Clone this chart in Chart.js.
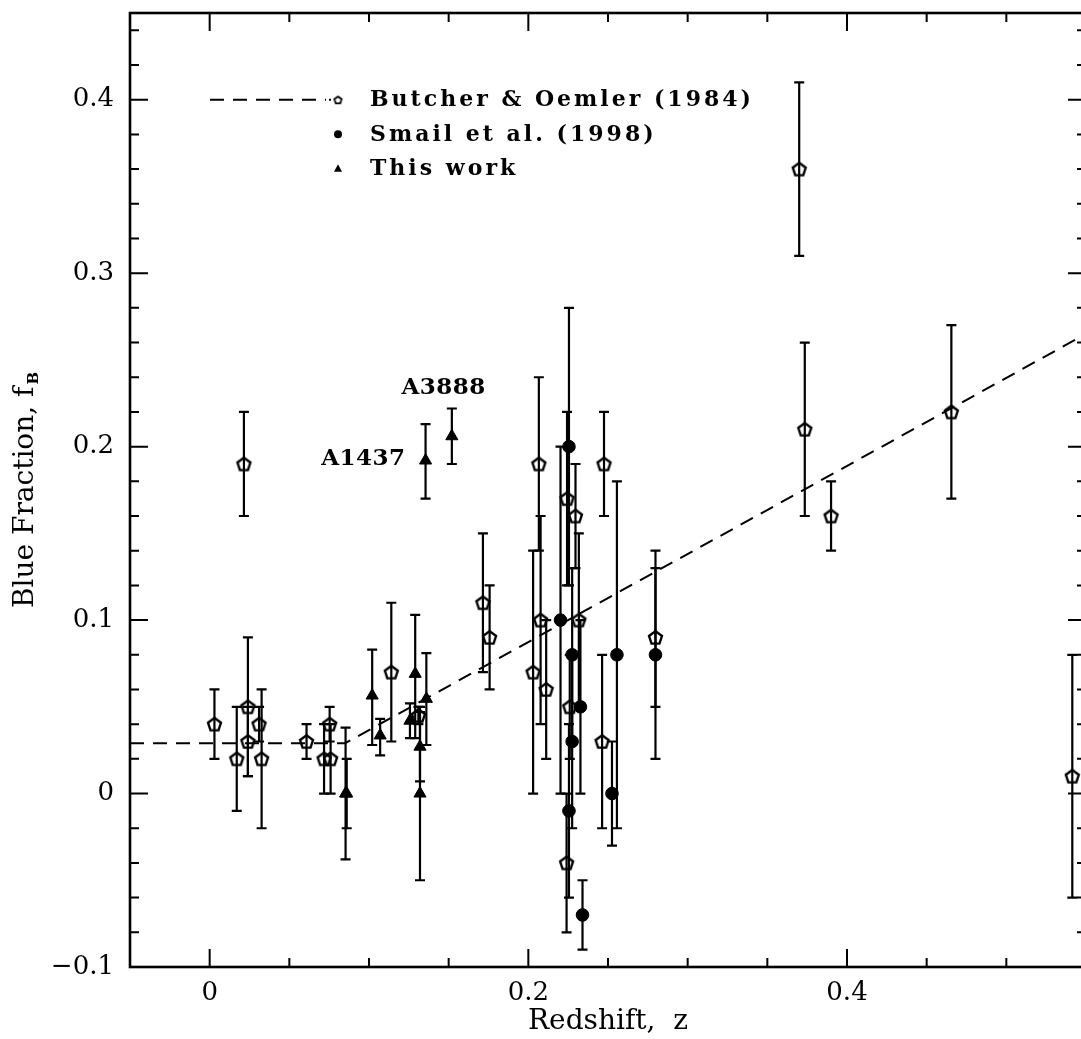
<!DOCTYPE html>
<html><head><meta charset="utf-8">
<script src="https://cdn.jsdelivr.net/npm/chart.js@4.4.1/dist/chart.umd.min.js"></script>
<style>
html,body{margin:0;padding:0;background:#fff;overflow:hidden;width:1081px;height:1039px}
#wrap{width:1100px;height:1039px;position:relative}
</style></head>
<body><div id="wrap"><canvas id="c" width="1100" height="1039"></canvas></div>
<script>
// ---- tick labels ----
const xTickValues = [0, 0.2, 0.4];
const xTickLabels = ['0', '0.2', '0.4'];
const yTickValues = [-0.1, 0, 0.1, 0.2, 0.3, 0.4];
const yTickLabels = ['\u22120.1', '0', '0.1', '0.2', '0.3', '0.4'];

// ---- Butcher & Oemler (1984) ----
const boZ  = [0.003, 0.017, 0.0215, 0.024, 0.024, 0.031, 0.0326, 0.0608, 0.0718, 0.0759, 0.0753, 0.114, 0.131, 0.1715, 0.1757, 0.203, 0.2066, 0.2077, 0.2112, 0.2243, 0.224, 0.226, 0.2296, 0.2317, 0.2463, 0.2475, 0.2798, 0.370, 0.3735, 0.390, 0.4655, 0.5414];
const boF  = [0.04, 0.02, 0.19, 0.05, 0.03, 0.04, 0.02, 0.03, 0.02, 0.02, 0.04, 0.07, 0.045, 0.11, 0.09, 0.07, 0.19, 0.10, 0.06, 0.17, -0.04, 0.05, 0.16, 0.10, 0.03, 0.19, 0.09, 0.36, 0.21, 0.16, 0.22, 0.01];
const boHi = [0.06, 0.05, 0.22, 0.09, 0.05, 0.05, 0.06, 0.04, 0.04, 0.04, 0.05, 0.11, 0.05, 0.15, 0.12, 0.14, 0.24, 0.16, 0.10, 0.22, 0.00, 0.08, 0.19, 0.15, 0.08, 0.22, 0.14, 0.41, 0.26, 0.18, 0.27, 0.08];
const boLo = [0.02, -0.01, 0.16, 0.01, 0.01, 0.03, -0.02, 0.02, 0.00, 0.00, 0.03, 0.03, 0.04, 0.07, 0.06, 0.00, 0.14, 0.04, 0.02, 0.12, -0.08, 0.02, 0.13, 0.05, -0.02, 0.16, 0.05, 0.31, 0.16, 0.14, 0.17, -0.06];

// ---- Smail et al. (1998) ----
const smZ  = [0.2202, 0.2255, 0.2275, 0.2327, 0.2275, 0.2255, 0.234, 0.2556, 0.2525, 0.2798];
const smF  = [0.10, 0.20, 0.08, 0.05, 0.03, -0.01, -0.07, 0.08, 0.00, 0.08];
const smHi = [0.20, 0.28, 0.13, 0.10, 0.08, 0.04, -0.05, 0.18, 0.03, 0.13];
const smLo = [0.00, 0.12, 0.03, 0.00, -0.02, -0.06, -0.09, -0.02, -0.03, 0.02];

// ---- This work ----
const twZ  = [0.0853, 0.086, 0.102, 0.107, 0.1257, 0.129, 0.132, 0.132, 0.136, 0.1355, 0.152];
const twF  = [0.0, 0.0, 0.0565, 0.0335, 0.042, 0.069, 0.027, 0.0, 0.0546, 0.192, 0.206];
const twHi = [0.038, 0.02, 0.083, 0.043, 0.052, 0.103, 0.047, 0.05, 0.081, 0.213, 0.222];
const twLo = [-0.038, -0.02, 0.028, 0.022, 0.032, 0.032, 0.007, -0.05, 0.028, 0.17, 0.19];

// ---- dashed trend line ----
const fitZ = [-0.05, 0.085, 0.55];
const fitF = [0.029, 0.029, 0.265];

// ---- labelled clusters ----
const clusterNames = ['A1437', 'A3888'];
const clusterIdx = [9, 10];   // index into This-work arrays

const legendLabels = ['Butcher & Oemler (1984)', 'Smail et al. (1998)', 'This work'];

const FONT = '"DejaVu Serif", serif';

function pentagon(r, lw) {
  const s = Math.ceil(2 * r + 2 * lw + 3) | 1;
  const c = document.createElement('canvas');
  c.width = s; c.height = s;
  const g = c.getContext('2d');
  g.strokeStyle = '#000'; g.lineWidth = lw; g.lineJoin = 'miter';
  g.beginPath();
  for (let k = 0; k < 5; k++) {
    const a = -Math.PI / 2 + k * 2 * Math.PI / 5;
    const px = s / 2 + r * Math.cos(a), py = s / 2 + 0.6 + r * Math.sin(a);
    k ? g.lineTo(px, py) : g.moveTo(px, py);
  }
  g.closePath(); g.stroke();
  return c;
}
const pentBig = pentagon(6.8, 2.4);

const pts = (xs, ys) => xs.map((v, i) => ({x: v, y: ys[i]}));
const errSets = [[boZ, boLo, boHi], [smZ, smLo, smHi], [twZ, twLo, twHi]];

const errPlugin = {
  id: 'errbars',
  beforeDatasetsDraw(chart) {
    const {ctx, chartArea: a, scales: {x, y}} = chart;
    ctx.save();
    ctx.beginPath(); ctx.rect(a.left, a.top, a.right - a.left, a.bottom - a.top); ctx.clip();
    ctx.strokeStyle = '#000'; ctx.lineWidth = 2.2; ctx.lineCap = 'butt';
    for (const [zs, lo, hi] of errSets) {
      for (let i = 0; i < zs.length; i++) {
        const px = x.getPixelForValue(zs[i]);
        const pl = y.getPixelForValue(lo[i]);
        const ph = y.getPixelForValue(hi[i]);
        ctx.beginPath();
        ctx.moveTo(px, pl); ctx.lineTo(px, ph);
        ctx.moveTo(px - 5, pl); ctx.lineTo(px + 5, pl);
        ctx.moveTo(px - 5, ph); ctx.lineTo(px + 5, ph);
        ctx.stroke();
      }
    }
    ctx.restore();
  }
};

const framePlugin = {
  id: 'frame',
  afterDraw(chart) {
    const {ctx, chartArea: a, scales: {x, y}} = chart;
    ctx.save();
    ctx.strokeStyle = '#000';
    ctx.lineWidth = 2;
    ctx.beginPath();
    for (let k = 0; k <= 12; k++) {
      const v = -0.05 + k * 0.05;
      const major = Math.abs(v / 0.2 - Math.round(v / 0.2)) < 1e-6;
      const L = major ? 18 : 9;
      const px = x.getPixelForValue(v);
      ctx.moveTo(px, a.bottom); ctx.lineTo(px, a.bottom - L);
      ctx.moveTo(px, a.top); ctx.lineTo(px, a.top + L);
    }
    for (let k = 0; k <= 27; k++) {
      const v = -0.1 + k * 0.02;
      const major = Math.abs(v / 0.1 - Math.round(v / 0.1)) < 1e-6;
      const L = major ? 18 : 9;
      const py = y.getPixelForValue(v);
      ctx.moveTo(a.left, py); ctx.lineTo(a.left + L, py);
      ctx.moveTo(a.right, py); ctx.lineTo(a.right - L, py);
    }
    ctx.stroke();
    ctx.lineWidth = 2.6;
    ctx.strokeRect(a.left, a.top, a.right - a.left, a.bottom - a.top);

    // legend
    const lx = a.left + 80, mx = a.left + 208, tx = a.left + 240;
    const ly0 = y.getPixelForValue(0.4), dy = 34.5;
    ctx.lineWidth = 2;
    ctx.setLineDash([14, 9]);
    ctx.beginPath(); ctx.moveTo(lx, ly0); ctx.lineTo(mx - 12, ly0); ctx.stroke();
    ctx.setLineDash([]);
    ctx.beginPath(); ctx.moveTo(mx - 9, ly0); ctx.lineTo(mx - 7, ly0); ctx.stroke();
    const pSmall = pentagon(3.8, 1.8);
    ctx.drawImage(pSmall, mx - pSmall.width / 2, ly0 - pSmall.height / 2);
    ctx.fillStyle = '#000';
    ctx.beginPath(); ctx.arc(mx, ly0 + dy, 4, 0, 2 * Math.PI); ctx.fill();
    const ty = ly0 + 2 * dy;
    ctx.beginPath(); ctx.moveTo(mx, ty - 4.5); ctx.lineTo(mx + 4, ty + 3); ctx.lineTo(mx - 4, ty + 3); ctx.closePath(); ctx.fill();
    ctx.font = 'bold 22px ' + FONT;
    ctx.letterSpacing = '3px';
    ctx.textBaseline = 'middle'; ctx.textAlign = 'left';
    legendLabels.forEach((t, i) => ctx.fillText(t, tx, ly0 + i * dy + 1));
    ctx.letterSpacing = '0px';

    // cluster labels
    ctx.font = 'bold 23px ' + FONT;
    ctx.letterSpacing = '0.5px';
    ctx.textBaseline = 'alphabetic'; ctx.textAlign = 'right';
    const p0x = x.getPixelForValue(twZ[clusterIdx[0]]), p0y = y.getPixelForValue(twF[clusterIdx[0]]);
    ctx.fillText(clusterNames[0], p0x - 20, p0y + 4);
    const p1x = x.getPixelForValue(twZ[clusterIdx[1]]), p1y = y.getPixelForValue(twF[clusterIdx[1]]);
    ctx.fillText(clusterNames[1], p1x + 34, p1y - 42);
    ctx.letterSpacing = '0px';

    // y-axis title with subscript
    const cy = (a.top + a.bottom) / 2;
    ctx.translate(33, cy);
    ctx.rotate(-Math.PI / 2);
    ctx.font = '28px ' + FONT;
    const main = 'Blue Fraction, f';
    const w1 = ctx.measureText(main).width;
    ctx.font = 'bold 15px ' + FONT;
    const w2 = ctx.measureText('B').width;
    const start = -(w1 + w2 + 2) / 2;
    ctx.textAlign = 'left'; ctx.textBaseline = 'alphabetic';
    ctx.font = '28px ' + FONT;
    ctx.fillText(main, start, 0);
    ctx.font = 'bold 15px ' + FONT;
    ctx.fillText('B', start + w1 + 2, 5);
    ctx.restore();
  }
};

new Chart(document.getElementById('c'), {
  type: 'scatter',
  data: {
    datasets: [
      {
        type: 'line', label: 'trend', data: pts(fitZ, fitF),
        borderColor: '#000', borderWidth: 2, borderDash: [14, 9],
        pointRadius: 0, fill: false, tension: 0, order: 5
      },
      {
        label: legendLabels[0], data: pts(boZ, boF),
        pointStyle: pentBig, pointRadius: 7, order: 2
      },
      {
        label: legendLabels[1], data: pts(smZ, smF),
        pointStyle: 'circle', pointRadius: 6.3, backgroundColor: '#000', borderColor: '#000', borderWidth: 1, order: 1
      },
      {
        label: legendLabels[2], data: pts(twZ, twF),
        pointStyle: 'triangle', pointRadius: 7, backgroundColor: '#000', borderColor: '#000', borderWidth: 1, order: 0
      }
    ]
  },
  options: {
    responsive: false,
    animation: false,
    events: [],
    layout: {padding: {top: 13, right: 14, left: 0, bottom: 0}},
    plugins: {legend: {display: false}, tooltip: {enabled: false}, title: {display: false}},
    scales: {
      x: {
        type: 'linear', min: -0.05, max: 0.55,
        afterBuildTicks: s => { s.ticks = xTickValues.map(v => ({value: v})); },
        afterFit: s => { s.height = 72; s.paddingLeft = 0; s.paddingRight = 0; },
        grid: {display: false, drawTicks: false},
        border: {display: false},
        ticks: {
          autoSkip: false, maxRotation: 0, padding: 11, color: '#000',
          font: {family: FONT, size: 26},
          callback: (v) => { const i = xTickValues.findIndex(t => Math.abs(t - v) < 1e-9); return i >= 0 ? xTickLabels[i] : ''; }
        },
        title: {display: true, text: 'Redshift,  z', color: '#000', font: {family: FONT, size: 28}, padding: {top: 0, bottom: 0}}
      },
      y: {
        type: 'linear', min: -0.1, max: 0.45,
        afterBuildTicks: s => { s.ticks = yTickValues.map(v => ({value: v})); },
        afterFit: s => { s.width = 130; s.paddingTop = 0; s.paddingBottom = 0; },
        grid: {display: false, drawTicks: false},
        border: {display: false},
        ticks: {
          autoSkip: false, padding: 16, color: '#000',
          font: {family: FONT, size: 26},
          callback: (v) => { const i = yTickValues.findIndex(t => Math.abs(t - v) < 1e-9); return i >= 0 ? yTickLabels[i] : ''; }
        }
      }
    }
  },
  plugins: [errPlugin, framePlugin]
});
</script>
</body></html>
